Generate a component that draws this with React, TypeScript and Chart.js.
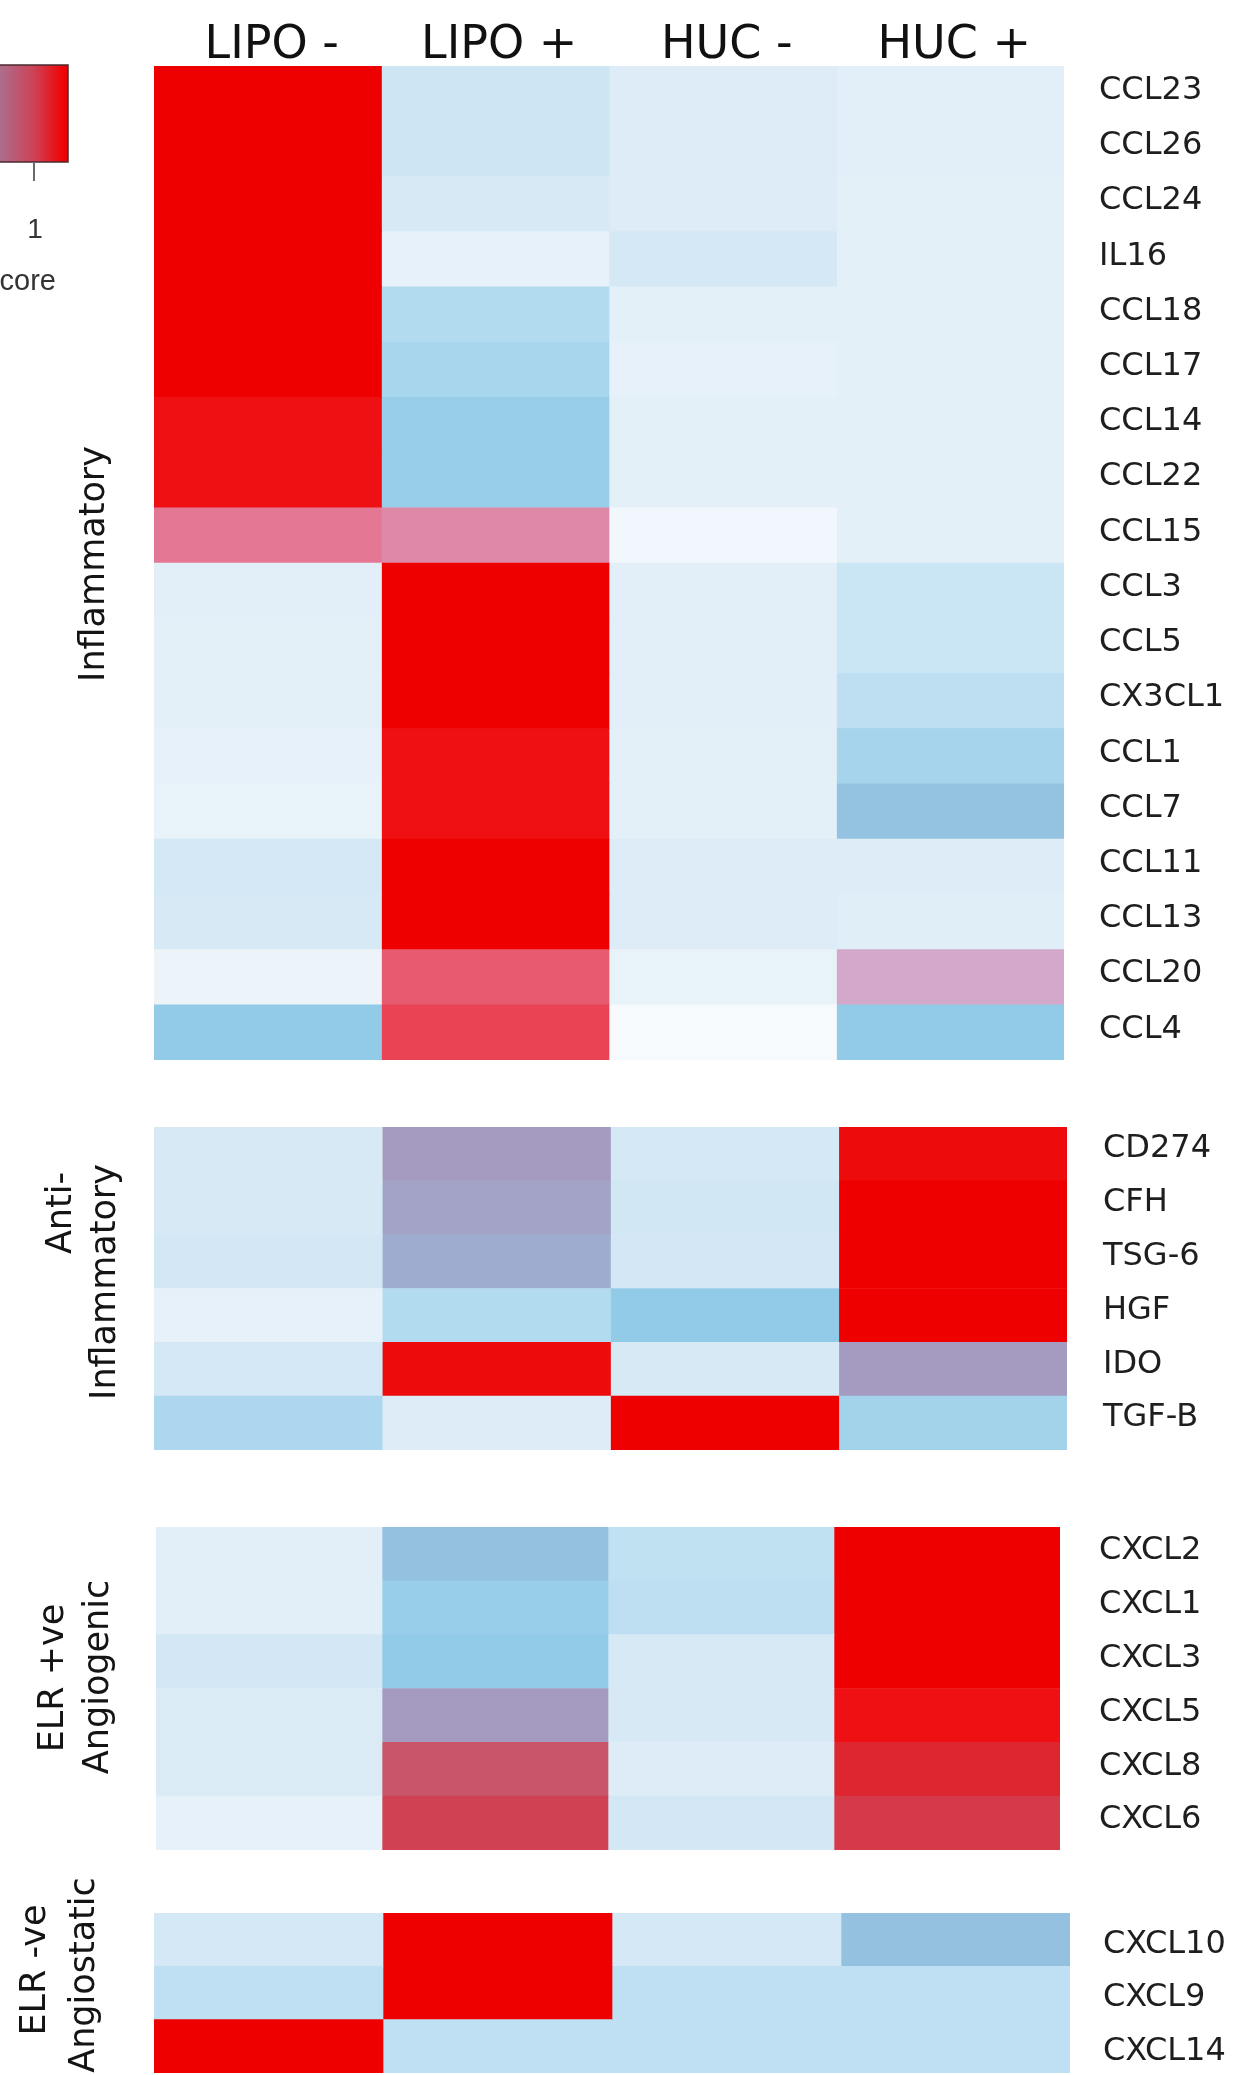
import React, { useEffect, useRef } from 'react';
import { Chart, registerables } from 'chart.js';

Chart.register(...registerables);

// ---------------- data ----------------
const CONDITIONS = ['LIPO -', 'LIPO +', 'HUC -', 'HUC +'];

const INFLAMMATORY_GENES = ['CCL23', 'CCL26', 'CCL24', 'IL16', 'CCL18', 'CCL17', 'CCL14', 'CCL22', 'CCL15', 'CCL3', 'CCL5', 'CX3CL1', 'CCL1', 'CCL7', 'CCL11', 'CCL13', 'CCL20', 'CCL4'];
const INFLAMMATORY_SCORES = [
  [1.0, 0.19, 0.13, 0.11],
  [1.0, 0.19, 0.13, 0.11],
  [1.0, 0.16, 0.13, 0.10],
  [1.0, 0.09, 0.17, 0.10],
  [1.0, 0.28, 0.10, 0.10],
  [1.0, 0.31, 0.09, 0.10],
  [0.97, 0.36, 0.10, 0.10],
  [0.97, 0.36, 0.10, 0.10],
  [0.635, 0.61, 0.03, 0.10],
  [0.11, 1.0, 0.11, 0.205],
  [0.10, 1.0, 0.11, 0.205],
  [0.10, 1.0, 0.11, 0.25],
  [0.09, 0.97, 0.10, 0.32],
  [0.08, 0.97, 0.10, 0.41],
  [0.17, 1.0, 0.13, 0.13],
  [0.16, 1.0, 0.13, 0.12],
  [0.06, 0.68, 0.08, 0.56],
  [0.38, 0.73, 0.0, 0.38],
];

const ANTI_GENES = ['CD274', 'CFH', 'TSG-6', 'HGF', 'IDO', 'TGF-B'];
const ANTI_SCORES = [
  [0.16, 0.50, 0.17, 0.98],
  [0.16, 0.485, 0.18, 1.0],
  [0.175, 0.465, 0.175, 1.0],
  [0.09, 0.28, 0.38, 1.0],
  [0.17, 0.98, 0.16, 0.50],
  [0.30, 0.13, 1.0, 0.33],
];

const ANGIOGENIC_GENES = ['CXCL2', 'CXCL1', 'CXCL3', 'CXCL5', 'CXCL8', 'CXCL6'];
const ANGIOGENIC_SCORES = [
  [0.11, 0.42, 0.24, 1.0],
  [0.11, 0.36, 0.25, 1.0],
  [0.175, 0.38, 0.16, 1.0],
  [0.145, 0.50, 0.16, 0.97],
  [0.14, 0.80, 0.13, 0.915],
  [0.09, 0.85, 0.175, 0.87],
];

const ANGIOSTATIC_GENES = ['CXCL10', 'CXCL9', 'CXCL14'];
const ANGIOSTATIC_SCORES = [
  [0.17, 1.0, 0.17, 0.42],
  [0.245, 1.0, 0.245, 0.245],
  [1.0, 0.245, 0.245, 0.245],
];

// ---------------- colour map ----------------
const COLOR_STOPS: [number, number[]][] = [
  [0.0, [247, 250, 253]],
  [0.08, [232, 242, 249]],
  [0.16, [215, 233, 245]],
  [0.24, [192, 225, 242]],
  [0.32, [165, 212, 236]],
  [0.38, [145, 203, 232]],
  [0.43, [150, 190, 222]],
  [0.5, [165, 155, 192]],
  [0.56, [212, 168, 202]],
  [0.62, [226, 130, 160]],
  [0.68, [232, 90, 112]],
  [0.74, [234, 62, 78]],
  [0.8, [200, 85, 105]],
  [0.86, [210, 62, 78]],
  [0.92, [222, 36, 45]],
  [0.97, [238, 16, 18]],
  [1.0, [238, 0, 0]],
];

function scoreColor(v: number): string {
  if (v <= COLOR_STOPS[0][0]) return `rgb(${COLOR_STOPS[0][1].join(',')})`;
  for (let i = 1; i < COLOR_STOPS.length; i++) {
    const [v1, c1] = COLOR_STOPS[i];
    const [v0, c0] = COLOR_STOPS[i - 1];
    if (v <= v1) {
      const t = (v - v0) / (v1 - v0);
      const c = c0.map((a, k) => Math.round(a + (c1[k] - a) * t));
      return `rgb(${c.join(',')})`;
    }
  }
  return `rgb(${COLOR_STOPS[COLOR_STOPS.length - 1][1].join(',')})`;
}

// ---------------- layout ----------------
const PAGE_W = 1234;

type GroupLine = { text: string; x: number; y: number };
type Panel = {
  genes: string[];
  scores: number[][];
  canvasTop: number;
  canvasHeight: number;
  areaTop: number;
  areaBottom: number;
  areaLeft: number;
  areaRight: number;
  labelGap: number;
  labelOffset: number;
  header: boolean;
  group: GroupLine[];
};

const PANELS: Panel[] = [
  {
    genes: INFLAMMATORY_GENES, scores: INFLAMMATORY_SCORES,
    canvasTop: 0, canvasHeight: 1070, areaTop: 66, areaBottom: 1060, areaLeft: 154, areaRight: 1064,
    labelGap: 35, labelOffset: -3, header: true,
    group: [{ text: 'Inflammatory', x: 104, y: 564 }],
  },
  {
    genes: ANTI_GENES, scores: ANTI_SCORES,
    canvasTop: 1100, canvasHeight: 380, areaTop: 1127, areaBottom: 1450, areaLeft: 154, areaRight: 1067,
    labelGap: 36, labelOffset: -5, header: false,
    group: [{ text: 'Anti-', x: 71, y: 1213 }, { text: 'Inflammatory', x: 115, y: 1282 }],
  },
  {
    genes: ANGIOGENIC_GENES, scores: ANGIOGENIC_SCORES,
    canvasTop: 1480, canvasHeight: 385, areaTop: 1527, areaBottom: 1850, areaLeft: 156, areaRight: 1060,
    labelGap: 39, labelOffset: -3, header: false,
    group: [{ text: 'ELR +ve', x: 63, y: 1678 }, { text: 'Angiogenic', x: 108, y: 1677 }],
  },
  {
    genes: ANGIOSTATIC_GENES, scores: ANGIOSTATIC_SCORES,
    canvasTop: 1865, canvasHeight: 210, areaTop: 1913, areaBottom: 2073, areaLeft: 154, areaRight: 1070,
    labelGap: 33, labelOffset: 5, header: false,
    group: [{ text: 'ELR -ve', x: 45, y: 1970 }, { text: 'Angiostatic', x: 94, y: 1975 }],
  },
];

// ---------------- plugins ----------------
const groupLabelPlugin = {
  id: 'groupLabel',
  afterDraw(chart: any, _args: any, opts: any) {
    const ctx = chart.ctx as CanvasRenderingContext2D;
    ctx.save();
    ctx.font = '35px "DejaVu Sans", sans-serif';
    ctx.fillStyle = '#141414';
    ctx.textAlign = 'center';
    ctx.textBaseline = 'alphabetic';
    (opts.lines || []).forEach((l: GroupLine) => {
      ctx.save();
      ctx.translate(l.x, l.y - opts.top);
      ctx.rotate(-Math.PI / 2);
      ctx.fillText(l.text, 0, 0);
      ctx.restore();
    });
    ctx.restore();
  },
};

const scoreLegendPlugin = {
  id: 'scoreLegend',
  afterDraw(chart: any) {
    const ctx = chart.ctx as CanvasRenderingContext2D;
    ctx.save();
    const x0 = -40, x1 = 68, y0 = 65, y1 = 162;
    const g = ctx.createLinearGradient(0, 0, x1, 0);
    g.addColorStop(0, 'rgb(172,110,140)');
    g.addColorStop(0.5, 'rgb(205,66,86)');
    g.addColorStop(0.9, 'rgb(236,8,10)');
    g.addColorStop(1, 'rgb(238,0,0)');
    ctx.fillStyle = g;
    ctx.fillRect(x0, y0, x1 - x0, y1 - y0);
    ctx.strokeStyle = '#4a2a30';
    ctx.lineWidth = 1.5;
    ctx.strokeRect(x0, y0, x1 - x0, y1 - y0);
    ctx.strokeStyle = '#6a6a6a';
    ctx.lineWidth = 2;
    ctx.beginPath();
    ctx.moveTo(34, y1);
    ctx.lineTo(34, 181);
    ctx.stroke();
    ctx.fillStyle = '#333';
    ctx.font = '28px "Liberation Sans", Arial, sans-serif';
    ctx.textAlign = 'center';
    ctx.textBaseline = 'alphabetic';
    ctx.fillText('1', 35, 238);
    ctx.font = '29px "Liberation Sans", Arial, sans-serif';
    ctx.textAlign = 'right';
    ctx.fillText('Z-score', 56, 290);
    ctx.restore();
  },
};

// ---------------- chart config ----------------
function buildConfig(p: Panel): any {
  const datasets = CONDITIONS.map((cond, c) => ({
    label: cond,
    data: p.genes.map(() => [c, c + 1]),
    backgroundColor: p.scores.map((row) => scoreColor(row[c])),
    borderWidth: 0,
    barPercentage: 1,
    categoryPercentage: 1,
    grouped: false,
  }));

  const scales: any = {
    x: { type: 'linear', min: 0, max: 4, display: false },
    y: {
      type: 'category',
      position: 'right',
      offset: true,
      grid: { display: false, drawTicks: false },
      border: { display: false },
      ticks: {
        font: { family: '"DejaVu Sans", sans-serif', size: 32 },
        color: '#1e1e1e',
        padding: p.labelGap,
        labelOffset: p.labelOffset,
        autoSkip: false,
      },
      afterFit: (s: any) => {
        s.width = PAGE_W - p.areaRight;
        s.paddingTop = 0;
        s.paddingBottom = 0;
      },
    },
  };
  if (p.header) {
    scales.x2 = {
      type: 'category',
      axis: 'x',
      position: 'top',
      labels: CONDITIONS,
      offset: true,
      grid: { display: false, drawTicks: false },
      border: { display: false },
      ticks: {
        font: { family: '"DejaVu Sans", sans-serif', size: 46 },
        color: '#111',
        padding: -8,
        labelOffset: 4,
        maxRotation: 0,
        autoSkip: false,
      },
      afterFit: (s: any) => {
        s.height = p.areaTop - p.canvasTop;
        s.paddingLeft = 0;
        s.paddingRight = 0;
      },
    };
  }

  return {
    type: 'bar',
    data: { labels: p.genes, datasets },
    options: {
      indexAxis: 'y',
      animation: false,
      responsive: false,
      maintainAspectRatio: false,
      events: [],
      layout: {
        padding: {
          left: p.areaLeft,
          right: 0,
          top: p.header ? 0 : p.areaTop - p.canvasTop,
          bottom: p.canvasTop + p.canvasHeight - p.areaBottom,
        },
      },
      plugins: {
        legend: { display: false },
        tooltip: { enabled: false },
        groupLabel: { lines: p.group, top: p.canvasTop },
      },
      scales,
    },
    plugins: p.header ? [groupLabelPlugin, scoreLegendPlugin] : [groupLabelPlugin],
  };
}

function HeatPanel({ panel }: { panel: Panel }) {
  const ref = useRef<HTMLCanvasElement | null>(null);
  useEffect(() => {
    if (!ref.current) return;
    const chart = new Chart(ref.current, buildConfig(panel));
    return () => chart.destroy();
  }, [panel]);
  return (
    <canvas
      ref={ref}
      width={PAGE_W}
      height={panel.canvasHeight}
      style={{ position: 'absolute', left: 0, top: panel.canvasTop, width: PAGE_W, height: panel.canvasHeight, display: 'block' }}
    />
  );
}

export default function App() {
  return (
    <div style={{ position: 'absolute', left: 0, top: 0, width: PAGE_W, height: 2075, background: '#fff', overflow: 'hidden' }}>
      {PANELS.map((p, i) => (
        <HeatPanel key={i} panel={p} />
      ))}
    </div>
  );
}
